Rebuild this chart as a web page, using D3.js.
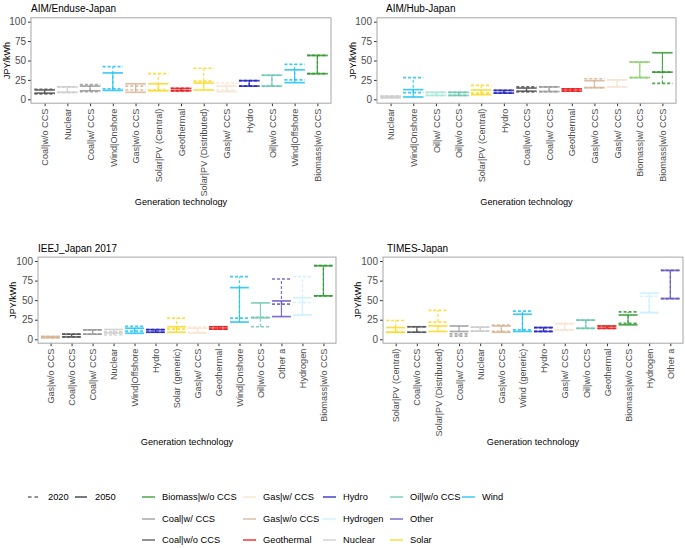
<!DOCTYPE html>
<html>
<head>
<meta charset="utf-8">
<script src="https://cdn.jsdelivr.net/npm/d3@7"></script>
<style>
  body { margin: 0; background: #fff; }
  svg { font-family: "Liberation Sans", Arial, sans-serif; }
</style>
</head>
<body>
<svg id="chart" width="685" height="548"></svg>
<script>
// данные по четырём моделям (нижняя/верхняя граница, 2020 и 2050)
const enduseTech = ["Coal|w/o CCS", "Nuclear", "Coal|w/ CCS", "Wind|Onshore", "Gas|w/o CCS", "Solar|PV (Central)", "Geothermal", "Solar|PV (Distributed)", "Gas|w/ CCS", "Hydro", "Oil|w/o CCS", "Wind|Offshore", "Biomass|w/o CCS"]
const enduseLo2020 = [7, 9, 10, 13.6, 12, 12, 11, 23.5, 12, 17, 17, 25, 33]
const enduseHi2020 = [13, 16, 19, 42, 17, 33, 14, 40, 21, 24, 31, 45, 56.5]
const enduseLo2050 = [8, 9, 11, 11.5, 9, 11, 11, 12, 10, 17, 17, 21.5, 33]
const enduseHi2050 = [12, 16, 17, 34, 20, 20, 14, 21, 17, 24, 31, 38, 56.5]

const hubTech = ["Nuclear", "Wind|Onshore", "Oil|w/ CCS", "Oil|w/o CCS", "Solar|PV (Central)", "Hydro", "Coal|w/o CCS", "Coal|w/ CCS", "Geothermal", "Gas|w/o CCS", "Gas|w/ CCS", "Biomass|w/ CCS", "Biomass|w/o CCS"]
const hubLo2020 = [2, 8.5, 5, 5, 8, 8, 9.5, 10, 10.6, 15, 16, 28, 20.5]
const hubHi2020 = [4, 28, 9, 9, 18, 11.5, 16, 16, 13.5, 26.5, 25, 48, 35]
const hubLo2050 = [2, 3, 5, 5, 6, 8, 10.5, 10, 10.6, 15, 16, 28, 35]
const hubHi2050 = [4, 12.5, 9, 9, 12, 11.5, 14.5, 16, 13.5, 24, 25, 48, 60]

const ieejTech = ["Gas|w/o CCS", "Coal|w/o CCS", "Coal|w/ CCS", "Nuclear", "Wind|Offshore", "Hydro", "Solar (generic)", "Gas|w/ CCS", "Geothermal", "Wind|Onshore", "Oil|w/o CCS", "Other a", "Hydrogen", "Biomass|w/o CCS"]
const ieejLo2020 = [2, 3, 6.5, 5.5, 10.5, 9, 13, 9, 13, 27, 16, 45, 47, 55.5]
const ieejHi2020 = [3.5, 6.5, 12, 9.5, 16.5, 12.3, 27, 15.5, 16, 80, 28, 77, 80, 94]
const ieejLo2050 = [2, 3, 6.5, 8, 7.7, 9, 9, 8, 13, 22, 27.5, 29, 31, 55.5]
const ieejHi2050 = [3.5, 6.5, 12, 12.5, 14, 12.3, 16, 14, 16, 66, 46.5, 49, 53, 94]

const timesTech = ["Solar|PV (Central)", "Coal|w/o CCS", "Solar|PV (Distributed)", "Coal|w/ CCS", "Nuclear", "Gas|w/o CCS", "Wind (generic)", "Hydro", "Gas|w/ CCS", "Oil|w/o CCS", "Geothermal", "Biomass|w/o CCS", "Hydrogen", "Other a"]
const timesLo2020 = [9, 9, 22, 4, 10.5, 10, 12, 10, 12, 14, 14, 20.5, 34, 52]
const timesHi2020 = [24, 16, 37, 7, 15.5, 18, 36, 15, 20, 24.5, 17, 35, 55, 88]
const timesLo2050 = [9, 9, 10, 10, 10.5, 9, 10, 10, 12, 14, 14, 18.5, 34, 52]
const timesHi2050 = [15, 16, 17, 17, 15.5, 17, 32, 15, 20, 24.5, 17, 31, 59, 88]

const yTicks = [0, 25, 50, 75, 100]
const legendGroups = ["Biomass|w/o CCS", "Coal|w/ CCS", "Coal|w/o CCS", "Gas|w/ CCS", "Gas|w/o CCS", "Geothermal", "Hydro", "Hydrogen", "Nuclear", "Oil|w/o CCS", "Other", "Solar", "Wind"]
const years = ["2020", "2050"]

// цвета групп
const groupColor = {
    "Biomass|w/o CCS": "#2f9a2f",
    "Biomass|w/ CCS": "#8fd070",
    "Coal|w/ CCS": "#9a9a9a",
    "Coal|w/o CCS": "#555555",
    "Gas|w/ CCS": "#f8e3cf",
    "Gas|w/o CCS": "#d8b495",
    "Geothermal": "#ec1c1c",
    "Hydro": "#2424c4",
    "Hydrogen": "#c8f0fc",
    "Nuclear": "#cccccc",
    "Oil|w/o CCS": "#6cc8b2",
    "Oil|w/ CCS": "#a8e6d6",
    "Other": "#6757c2",
    "Solar": "#fbd820",
    "Wind": "#1fc2f5"
}

function groupOf(tech) {
    if (tech.startsWith("Solar")) return "Solar"
    if (tech.startsWith("Wind")) return "Wind"
    if (tech.startsWith("Other")) return "Other"
    return tech
}

const panels = [
    { title: "AIM/Enduse-Japan", tech: enduseTech, lo20: enduseLo2020, hi20: enduseHi2020, lo50: enduseLo2050, hi50: enduseHi2050,
      left: 31, right: 331, top: 17.8, bottom: 103.2, titleX: 31, titleY: 11.5, ylabX: 7, xtitleY: 205 },
    { title: "AIM/Hub-Japan", tech: hubTech, lo20: hubLo2020, hi20: hubHi2020, lo50: hubLo2050, hi50: hubHi2050,
      left: 377, right: 676, top: 17.8, bottom: 103.2, titleX: 386, titleY: 11.5, ylabX: 353, xtitleY: 205 },
    { title: "IEEJ_Japan 2017", tech: ieejTech, lo20: ieejLo2020, hi20: ieejHi2020, lo50: ieejLo2050, hi50: ieejHi2050,
      left: 38, right: 336, top: 257.1, bottom: 343.2, titleX: 38, titleY: 251.5, ylabX: 13, xtitleY: 445 },
    { title: "TIMES-Japan", tech: timesTech, lo20: timesLo2020, hi20: timesHi2020, lo50: timesLo2050, hi50: timesHi2050,
      left: 383, right: 683, top: 257.1, bottom: 343.2, titleX: 387, titleY: 251.5, ylabX: 358, xtitleY: 445 }
]

const svg = d3.select("#chart")

function drawPanel(p) {
    const g = svg.append("g")
    const scX = d3.scalePoint().domain(p.tech).range([p.left, p.right]).padding(0.6)
    const scY = d3.scaleLinear().domain([-5, 105]).range([p.bottom, p.top])
    const capW = scX.step() * 0.9

    // оси
    const axY = g.append("g")
        .attr("transform", `translate(${p.left},0)`)
        .call(d3.axisLeft(scY).tickValues(yTicks).tickSize(3).tickPadding(2))
    axY.select(".domain").remove()
    axY.selectAll("line").attr("stroke", "#333")
    axY.selectAll("text").attr("fill", "#4d4d4d").style("font-size", "10px")

    const axX = g.append("g")
        .attr("transform", `translate(0,${p.bottom})`)
        .call(d3.axisBottom(scX).tickSize(3))
    axX.select(".domain").remove()
    axX.selectAll("line").attr("stroke", "#333")
    axX.selectAll("text")
        .attr("transform", "rotate(-90)")
        .attr("x", -5.5)
        .attr("y", 0)
        .attr("dy", "0.35em")
        .style("text-anchor", "end")
        .style("font-size", "9.1px")
        .attr("fill", "#4d4d4d")

    // рамка
    g.append("rect")
        .attr("x", p.left).attr("y", p.top)
        .attr("width", p.right - p.left).attr("height", p.bottom - p.top)
        .attr("fill", "none").attr("stroke", "#a6a6a6").attr("stroke-width", 1)

    // error bars
    const rows = p.tech.map((t, i) => ({ tech: t, lo20: p.lo20[i], hi20: p.hi20[i], lo50: p.lo50[i], hi50: p.hi50[i] }))
    const sets = [{ lo: "lo20", hi: "hi20", dash: "3,2" }, { lo: "lo50", hi: "hi50", dash: null }]
    sets.forEach(s => {
        const bars = g.selectAll(".bar-" + s.lo).data(rows).enter().append("g")
            .attr("stroke", d => groupColor[groupOf(d.tech)])
            .attr("stroke-opacity", 0.85)
            .attr("stroke-dasharray", s.dash)
            .attr("fill", "none")
        bars.append("line")
            .attr("x1", d => scX(d.tech)).attr("x2", d => scX(d.tech))
            .attr("y1", d => scY(d[s.lo])).attr("y2", d => scY(d[s.hi]))
            .attr("stroke-width", 1.2)
        bars.append("line")
            .attr("x1", d => scX(d.tech) - capW / 2).attr("x2", d => scX(d.tech) + capW / 2)
            .attr("y1", d => scY(d[s.lo])).attr("y2", d => scY(d[s.lo]))
            .attr("stroke-width", 1.7)
        bars.append("line")
            .attr("x1", d => scX(d.tech) - capW / 2).attr("x2", d => scX(d.tech) + capW / 2)
            .attr("y1", d => scY(d[s.hi])).attr("y2", d => scY(d[s.hi]))
            .attr("stroke-width", 1.7)
    })

    // подписи
    g.append("text").attr("x", p.titleX).attr("y", p.titleY)
        .style("font-size", "10px").text(p.title)
    g.append("text")
        .attr("transform", `translate(${p.ylabX},${(p.top + p.bottom) / 2}) rotate(-90)`)
        .attr("dy", "0.35em")
        .style("text-anchor", "middle").style("font-size", "9px")
        .text("JPY/kWh")
    g.append("text").attr("x", (p.left + p.right) / 2).attr("y", p.xtitleY)
        .style("text-anchor", "middle").style("font-size", "9.2px")
        .text("Generation technology")
}

panels.forEach(drawPanel)

// легенда
const leg = svg.append("g").style("font-size", "9.3px")
const yearKeyX = [28, 75]
years.forEach((yr, i) => {
    leg.append("line")
        .attr("x1", yearKeyX[i]).attr("x2", yearKeyX[i] + 12)
        .attr("y1", 497).attr("y2", 497)
        .attr("stroke", "#222").attr("stroke-width", 1.2)
        .attr("stroke-dasharray", i == 0 ? "3.5,3" : null)
    leg.append("text").attr("x", yearKeyX[i] + 20).attr("y", 497).attr("dy", "0.35em").text(yr)
})

const colKeyX = [142, 243, 323, 390, 462]
const rowY = [497, 519, 540]
legendGroups.forEach((grp, i) => {
    const col = Math.floor(i / 3), row = i % 3
    leg.append("line")
        .attr("x1", colKeyX[col]).attr("x2", colKeyX[col] + 13)
        .attr("y1", rowY[row]).attr("y2", rowY[row])
        .attr("stroke", groupColor[grp]).attr("stroke-width", 1.3)
    leg.append("text").attr("x", colKeyX[col] + 20).attr("y", rowY[row]).attr("dy", "0.35em").text(grp)
})
</script>
</body>
</html>
